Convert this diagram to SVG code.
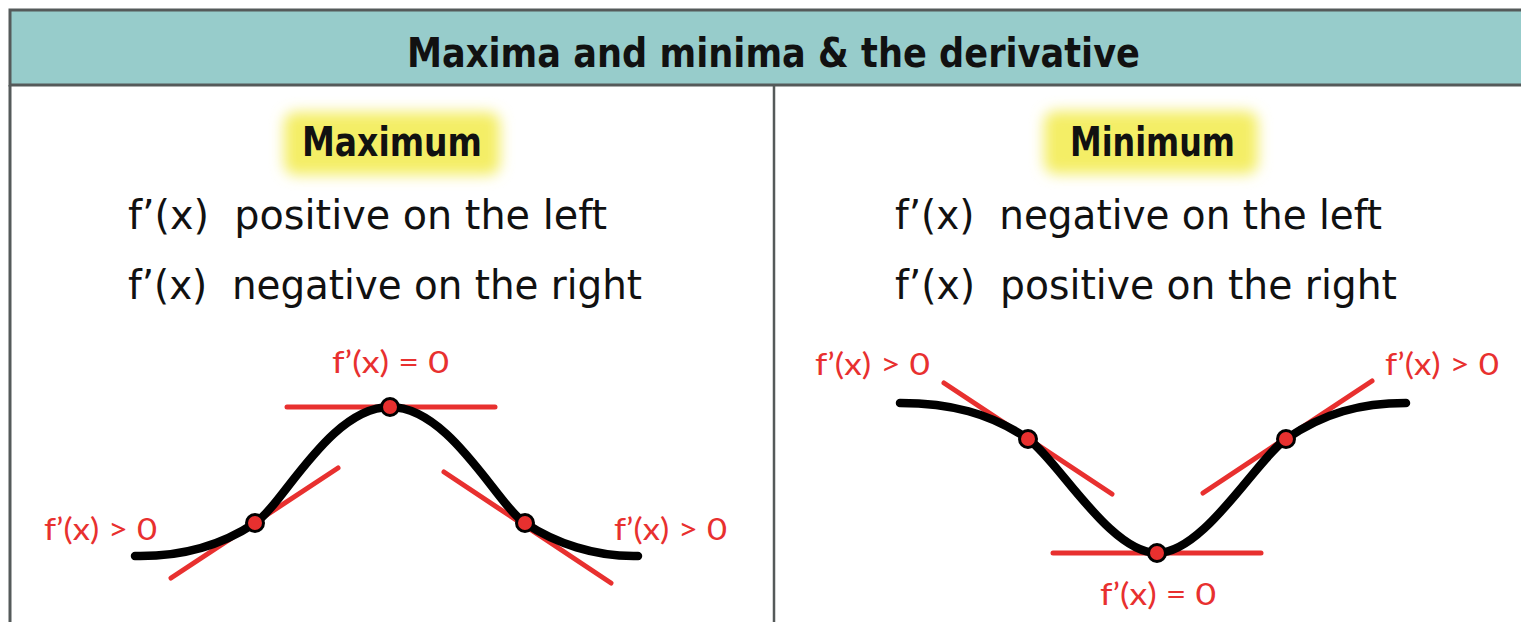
<svg xmlns="http://www.w3.org/2000/svg" width="1521" height="622" viewBox="0 0 1521 622">
<defs>
<style>
.frame{fill:none;stroke:#555a5a;stroke-width:3}
.head{fill:#97cccb;stroke:#555a5a;stroke-width:3}
.title{font-family:"DejaVu Sans",sans-serif;font-weight:bold;font-size:41px;fill:#111}
.sub{font-family:"DejaVu Sans",sans-serif;font-weight:bold;font-size:40px;fill:#111}
.body{font-family:"DejaVu Sans",sans-serif;font-size:40px;fill:#111;white-space:pre}
.lab{font-family:Lato,"Open Sans",sans-serif;font-size:31px;fill:#e8302f}
.curve{fill:none;stroke:#000;stroke-width:8.5;stroke-linecap:round}
.tan{stroke:#e8302f;stroke-width:5;stroke-linecap:round}
.dot{fill:#e8302f;stroke:#000;stroke-width:3}
.glow{fill:#f4ee66}
</style>
<filter id="blur" x="-20%" y="-40%" width="140%" height="180%"><feGaussianBlur stdDeviation="7"/></filter>
</defs>
<rect x="0" y="0" width="1521" height="622" fill="#ffffff"/>
<g id="frame">
<rect class="head" x="10" y="10" width="1520" height="75"/>
<line class="frame" x1="10" y1="85" x2="10" y2="630"/>
<line class="frame" x1="774" y1="85" x2="774" y2="630" style="stroke-width:2.5"/>
<text class="title" x="407" y="67" textLength="733" lengthAdjust="spacingAndGlyphs">Maxima and minima &amp; the derivative</text>
</g>
<g id="maximum">
<rect class="glow" x="284" y="112" width="216" height="63" rx="12" filter="url(#blur)"/>
<text class="sub" x="302" y="156" textLength="180" lengthAdjust="spacingAndGlyphs">Maximum</text>
<text class="body" x="128" y="229" textLength="479" lengthAdjust="spacingAndGlyphs">f’(x)  positive on the left</text>
<text class="body" x="128" y="299" textLength="514" lengthAdjust="spacingAndGlyphs">f’(x)  negative on the right</text>
</g>
<g id="minimum">
<rect class="glow" x="1044" y="111" width="214" height="63" rx="12" filter="url(#blur)"/>
<text class="sub" x="1070" y="156" textLength="165" lengthAdjust="spacingAndGlyphs">Minimum</text>
<text class="body" x="895" y="229" textLength="487" lengthAdjust="spacingAndGlyphs">f’(x)  negative on the left</text>
<text class="body" x="895" y="299" textLength="502" lengthAdjust="spacingAndGlyphs">f’(x)  positive on the right</text>
</g>
<g id="max-graph">
<line class="tan" x1="287" y1="407" x2="495" y2="407"/>
<line class="tan" x1="171" y1="578" x2="338" y2="468"/>
<line class="tan" x1="444" y1="472" x2="611" y2="583"/>
<path class="curve" d="M135,556 C185,557 225,543 255,523 C283,505 330,407 390,407 C450,407 497,505 525,523 C555,543 595,557 638,556"/>
<circle class="dot" cx="390" cy="407" r="8.5"/>
<circle class="dot" cx="255" cy="523" r="8.5"/>
<circle class="dot" cx="525" cy="523" r="8.5"/>
<text class="lab" x="332" y="373" textLength="117" lengthAdjust="spacingAndGlyphs">f’(x) = 0</text>
<text class="lab" x="44" y="540" textLength="113" lengthAdjust="spacingAndGlyphs">f’(x) &gt; 0</text>
<text class="lab" x="614" y="540" textLength="113" lengthAdjust="spacingAndGlyphs">f’(x) &gt; 0</text>
</g>
<g id="min-graph">
<line class="tan" x1="1053" y1="553" x2="1261" y2="553"/>
<line class="tan" x1="944" y1="383" x2="1112" y2="494"/>
<line class="tan" x1="1203" y1="493" x2="1372" y2="381"/>
<path class="curve" d="M900,403 C950,403 990,413 1028,439 C1058,460 1110,553 1157,553 C1204,553 1256,460 1286,439 C1324,413 1360,403 1406,403"/>
<circle class="dot" cx="1157" cy="553" r="8.5"/>
<circle class="dot" cx="1028" cy="439" r="8.5"/>
<circle class="dot" cx="1286" cy="439" r="8.5"/>
<text class="lab" x="815" y="375" textLength="115" lengthAdjust="spacingAndGlyphs">f’(x) &gt; 0</text>
<text class="lab" x="1385" y="375" textLength="114" lengthAdjust="spacingAndGlyphs">f’(x) &gt; 0</text>
<text class="lab" x="1100" y="605" textLength="116" lengthAdjust="spacingAndGlyphs">f’(x) = 0</text>
</g>
</svg>
